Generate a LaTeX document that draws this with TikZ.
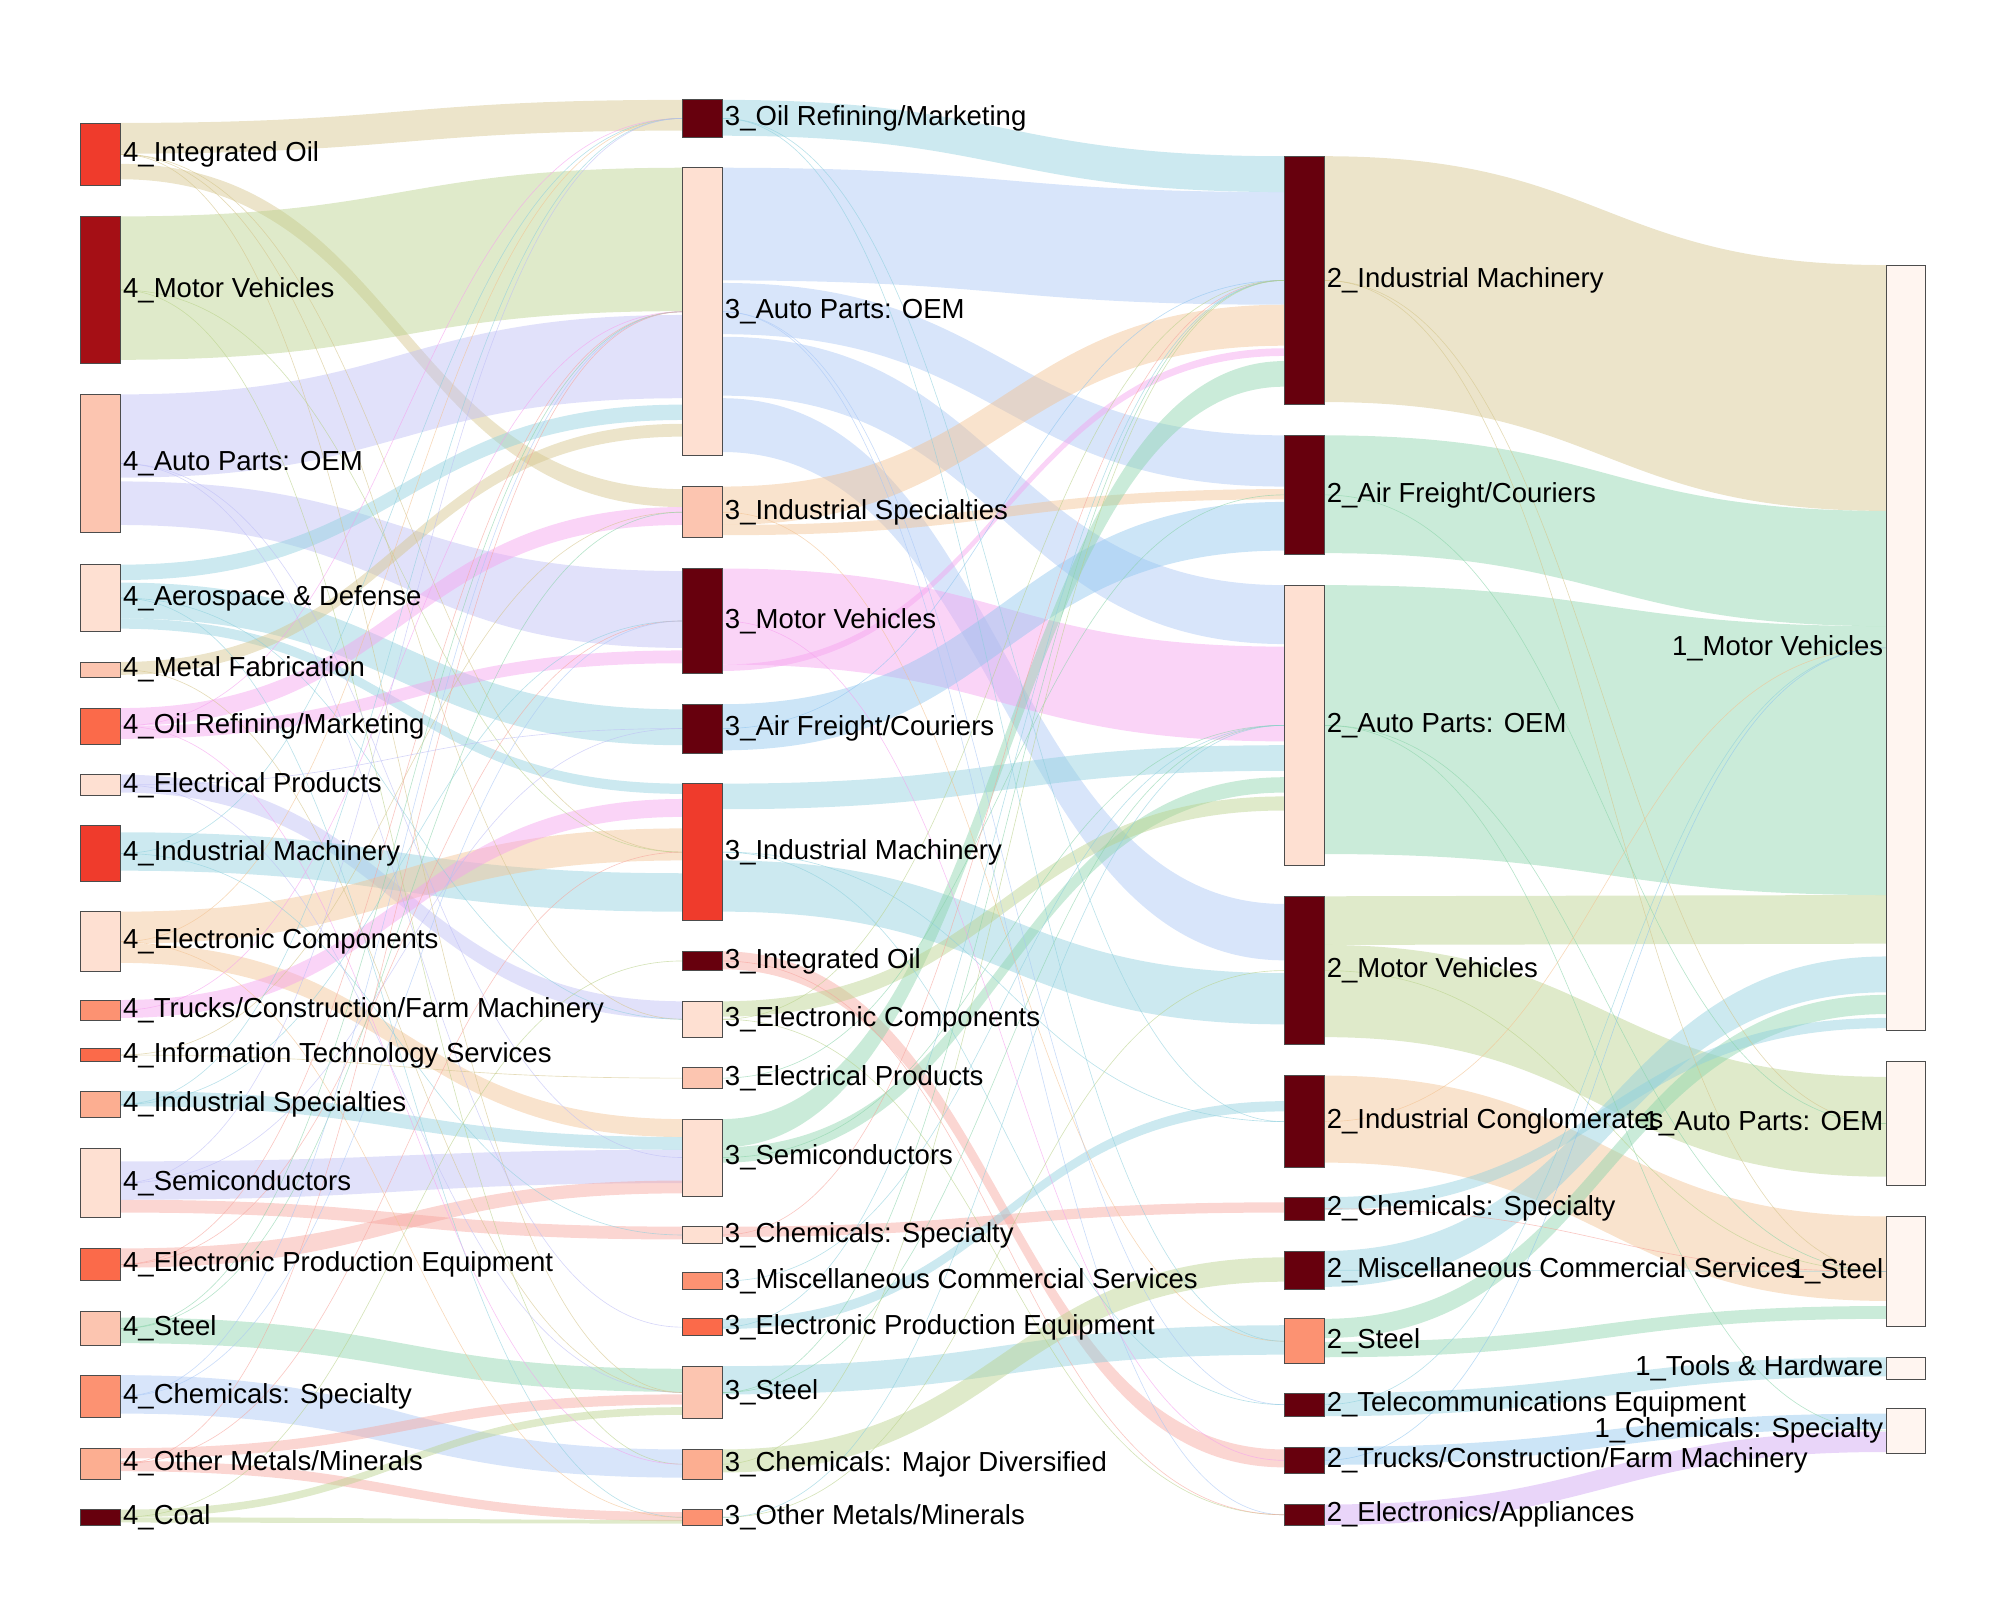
\documentclass[tikz,border=0pt]{standalone}
\usepackage{fontspec}
\setmainfont{Liberation Sans}
\usetikzlibrary{positioning}
\usetikzlibrary{calc}
\definecolor{nA}{HTML}{67000D}
\definecolor{nB}{HTML}{A50F15}
\definecolor{nC}{HTML}{EF3B2C}
\definecolor{nD}{HTML}{FB6A4A}
\definecolor{nE}{HTML}{FC9272}
\definecolor{nF}{HTML}{FCAE91}
\definecolor{nG}{HTML}{FCC5B0}
\definecolor{nH}{HTML}{FEE0D2}
\definecolor{nI}{HTML}{FFF5F0}
\definecolor{ftan}{HTML}{D4C48A}
\definecolor{folive}{HTML}{B9D18A}
\definecolor{flav}{HTML}{BDBDF5}
\definecolor{fcyan}{HTML}{8ECFDD}
\definecolor{fblue}{HTML}{A8C6F5}
\definecolor{fsky}{HTML}{8FC5EE}
\definecolor{fpink}{HTML}{F5A0EE}
\definecolor{fpeach}{HTML}{F2C190}
\definecolor{fgreen}{HTML}{8AD3AA}
\definecolor{fsalmon}{HTML}{F6A49C}
\definecolor{fpurple}{HTML}{CFA2F2}
\pgfdeclarelayer{bg}
\pgfsetlayers{bg,main}
\newcommand\flow[7]{%
  \fill[#7,opacity=.45] ($(#1.north east)+(0,#2)$) .. controls +(220,0) and +(-220,0) .. ($(#4.north west)+(0,#5)$)
    -- ($(#4.north west)+(0,#6)$) .. controls +(-220,0) and +(220,0) .. ($(#1.north east)+(0,#3)$) -- cycle;}
\tikzset{
  box/.style={draw=black!70,line width=0.6pt,anchor=north,minimum width=31pt,inner sep=0pt,outer sep=0pt},
  lbl/.style={anchor=west,inner sep=2pt,font=\fontsize{21.5}{24}\selectfont},
  lbll/.style={anchor=east,inner sep=2pt,font=\fontsize{21.5}{24}\selectfont},
  thin flow/.style={line width=0.5pt,opacity=.6}
}
\begin{document}
\begin{tikzpicture}[x=1pt,y=-1pt]
\useasboundingbox (0,0) rectangle (1562,1250);

% column 4
\foreach \n/\y/\h/\c/\t in {
  io4/96/49/nC/Integrated Oil, mv4/169/115/nB/Motor Vehicles, ap4/308/108/nG/Auto Parts: OEM,
  ad4/441/52/nH/Aerospace \& Defense, mf4/517/12/nG/Metal Fabrication, or4/553/28/nD/{Oil Refining/Marketing},
  ep4/605/16/nH/Electrical Products, im4/645/43/nC/Industrial Machinery, ec4/712/47/nH/Electronic Components,
  tc4/781/16/nE/{Trucks/Construction/Farm Machinery}, it4/819/10/nD/Information Technology Services,
  is4/852/21/nF/Industrial Specialties, sc4/897/54/nH/Semiconductors, pe4/975/25/nD/Electronic Production Equipment,
  st4/1024/27/nG/Steel, cs4/1074/33/nE/Chemicals: Specialty, om4/1131/24/nF/{Other Metals/Minerals}, co4/1179/12/nA/Coal}
{
  \node[box,fill=\c,minimum height=\h pt] (\n) at (78.5,\y) {};
  \node[lbl] (\n l) at (\n.east) {4\_\t};
}

% column 3
\foreach \n/\y/\h/\c/\t in {
  or3/78/29/nA/{Oil Refining/Marketing}, ap3/131/225/nH/Auto Parts: OEM, is3/380/40/nG/Industrial Specialties,
  mv3/444/82/nA/Motor Vehicles, af3/550/38/nA/{Air Freight/Couriers}, im3/612/107/nC/Industrial Machinery,
  io3/743/15/nA/Integrated Oil, ec3/782/28/nH/Electronic Components, ep3/834/16/nG/Electrical Products,
  sc3/874/60/nH/Semiconductors, cs3/958/13/nH/Chemicals: Specialty, mc3/994/13/nE/Miscellaneous Commercial Services,
  pe3/1030/13/nD/Electronic Production Equipment, st3/1067/41/nG/Steel, cm3/1132/23/nF/Chemicals: Major Diversified,
  om3/1179/12/nE/{Other Metals/Minerals}}
{
  \node[box,fill=\c,minimum height=\h pt] (\n) at (548.5,\y) {};
  \node[lbl] (\n l) at (\n.east) {3\_\t};
}

% column 2
\foreach \n/\y/\h/\c/\t in {
  im2/122/194/nA/Industrial Machinery, af2/340/93/nA/{Air Freight/Couriers}, ap2/457/219/nH/Auto Parts: OEM,
  mv2/700/116/nA/Motor Vehicles, ic2/840/72/nA/Industrial Conglomerates, cs2/935/18/nA/Chemicals: Specialty,
  mc2/977/30/nA/Miscellaneous Commercial Services, st2/1030/35/nE/Steel, te2/1088/18/nA/Telecommunications Equipment,
  tc2/1130/21/nA/{Trucks/Construction/Farm Machinery}, ea2/1175/16/nA/{Electronics/Appliances}}
{
  \node[box,fill=\c,minimum height=\h pt] (\n) at (1018.5,\y) {};
  \node[lbl] (\n l) at (\n.east) {2\_\t};
}

% column 1
\foreach \n/\y/\h/\t in {
  mv1/207/598/Motor Vehicles, ap1/829/97/Auto Parts: OEM, st1/950/86/Steel,
  th1/1060/17/Tools \& Hardware, cs1/1100/35/Chemicals: Specialty}
{
  \node[box,fill=nI,minimum height=\h pt] (\n) at (1488.5,\y) {};
  \node[lbll] (\n l) at (\n.west) {1\_\t};
}

\begin{pgfonlayer}{bg}
% flows 4 -> 3
\flow{io4}{0}{24}{or3}{0}{24}{ftan}
\flow{io4}{32}{44}{is3}{2}{16}{ftan}
\flow{mv4}{0}{112}{ap3}{0}{112}{folive}
\flow{ap4}{0}{65}{ap3}{115}{180}{flav}
\flow{ap4}{68}{102}{mv3}{2}{62}{flav}
\flow{ad4}{0}{12}{ap3}{185}{197}{fcyan}
\flow{ad4}{14}{42}{af3}{4}{32}{fcyan}
\flow{ad4}{42}{50}{im3}{0}{8}{fcyan}
\flow{mf4}{0}{10}{ap3}{200}{210}{ftan}
\flow{or4}{0}{14}{is3}{16}{30}{fpink}
\flow{or4}{14}{24}{mv3}{64}{74}{fpink}
\flow{ep4}{0}{14}{ec3}{0}{14}{flav}
\flow{im4}{5}{35}{im3}{70}{100}{fcyan}
\flow{ec4}{0}{25}{im3}{35}{60}{fpeach}
\flow{ec4}{25}{40}{sc3}{0}{14}{fpeach}
\flow{tc4}{0}{14}{im3}{12}{26}{fpink}
\flow{is4}{0}{12}{sc3}{14}{24}{fcyan}
\flow{sc4}{10}{40}{sc3}{24}{50}{flav}
\flow{sc4}{40}{50}{cs3}{0}{10}{fsalmon}
\flow{pe4}{0}{15}{sc3}{48}{58}{fsalmon}
\flow{st4}{5}{25}{st3}{2}{20}{fgreen}
\flow{cs4}{0}{30}{cm3}{0}{22}{fblue}
\flow{om4}{0}{8}{st3}{22}{30}{fsalmon}
\flow{om4}{10}{18}{om3}{2}{9}{fsalmon}
\flow{co4}{0}{6}{st3}{32}{38}{folive}
\flow{co4}{6}{10}{om3}{8}{11}{folive}
% flows 3 -> 2
\flow{or3}{0}{28}{im2}{0}{28}{fcyan}
\flow{ap3}{0}{88}{im2}{28}{116}{fblue}
\flow{ap3}{90}{130}{af2}{0}{40}{fblue}
\flow{ap3}{132}{178}{ap2}{0}{46}{fblue}
\flow{ap3}{180}{222}{mv2}{6}{50}{fblue}
\flow{is3}{0}{30}{im2}{116}{148}{fpeach}
\flow{is3}{30}{38}{af2}{42}{50}{fpeach}
\flow{mv3}{0}{75}{ap2}{48}{122}{fpink}
\flow{mv3}{75}{80}{im2}{150}{156}{fpink}
\flow{af3}{0}{36}{af2}{52}{90}{fsky}
\flow{im3}{0}{20}{ap2}{125}{145}{fcyan}
\flow{im3}{60}{100}{mv2}{60}{100}{fcyan}
\flow{io3}{0}{14}{tc2}{2}{16}{fsalmon}
\flow{sc3}{0}{22}{im2}{160}{180}{fgreen}
\flow{sc3}{22}{34}{ap2}{150}{162}{fgreen}
\flow{ec3}{0}{12}{ap2}{165}{176}{folive}
\flow{st3}{0}{22}{st2}{5}{28}{fcyan}
\flow{cm3}{0}{18}{mc2}{5}{24}{folive}
\flow{cs3}{0}{8}{cs2}{4}{12}{fsalmon}
\flow{pe3}{0}{8}{ic2}{20}{28}{fcyan}
% flows 2 -> 1
\flow{im2}{0}{192}{mv1}{0}{192}{ftan}
\flow{af2}{0}{92}{mv1}{192}{282}{fgreen}
\flow{ap2}{0}{210}{mv1}{282}{492}{fgreen}
\flow{mv2}{0}{38}{mv1}{492}{530}{folive}
\flow{mv2}{38}{110}{ap1}{12}{90}{folive}
\flow{ic2}{0}{68}{st1}{0}{66}{fpeach}
\flow{mc2}{0}{28}{mv1}{540}{568}{fcyan}
\flow{st2}{0}{15}{mv1}{570}{585}{fgreen}
\flow{st2}{18}{30}{st1}{70}{80}{fgreen}
\flow{te2}{0}{18}{th1}{0}{15}{fcyan}
\flow{tc2}{0}{14}{cs1}{4}{16}{fsky}
\flow{ea2}{0}{16}{cs1}{18}{34}{fpurple}
\flow{cs2}{0}{10}{mv1}{588}{596}{fcyan}
% thin flows
\foreach \a/\b/\c in {io4/im3/ftan, io4/ec3/ftan, io4/st3/ftan, mv4/im3/folive, mv4/cm3/folive,
  ap4/sc3/flav, ap4/pe3/flav, ad4/ec3/fcyan, ad4/om3/fcyan, or4/cm3/fpink, or4/or3/fpink,
  ep4/st3/flav, im4/or3/fcyan, im4/cs3/fcyan, ec4/or3/fpeach, ec4/om3/fpeach, tc4/ap3/fpink,
  it4/is3/ftan, it4/ep3/ftan, is4/or3/fcyan, is4/mv3/fcyan, sc4/af3/flav, sc4/or3/flav,
  pe4/mv3/fsalmon, pe4/ap3/fsalmon, st4/ap3/fgreen, st4/is3/fgreen, cs4/mv3/fblue, cs4/ap3/fblue,
  om4/im3/fsalmon, om4/ap3/fsalmon, co4/io3/folive, mf4/st3/ftan, ep4/af3/flav}
  \draw[thin flow,\c] (\a.east) .. controls +(220,0) and +(-220,0) .. (\b.west);
\foreach \a/\b/\c in {or3/ic2/fcyan, ap3/ea2/fblue, ap3/te2/fblue, is3/st2/fpeach, mv3/tc2/fpink,
  af3/im2/fsky, im3/ic2/fcyan, im3/te2/fcyan, ec3/im2/folive, ec3/ea2/folive, ep3/af2/fgreen,
  sc3/ap2/fgreen, cs3/im2/fsalmon, mc3/ap2/fcyan, pe3/im2/fcyan, st3/ap2/fgreen, st3/im2/fgreen,
  cm3/im2/folive, om3/mv2/folive, om3/ap2/fcyan, io3/ea2/fsalmon, or3/st2/fcyan}
  \draw[thin flow,\c] (\a.east) .. controls +(220,0) and +(-220,0) .. (\b.west);
\foreach \a/\b/\c in {im2/ap1/ftan, im2/st1/ftan, af2/ap1/fgreen, ap2/st1/fgreen, ap2/cs1/fgreen,
  mv2/st1/folive, ic2/mv1/fpeach, cs2/st1/fsalmon, mc2/st1/fcyan, te2/mv1/fcyan, tc2/mv1/fsky}
  \draw[thin flow,\c] (\a.east) .. controls +(220,0) and +(-220,0) .. (\b.west);
\end{pgfonlayer}
\end{tikzpicture}
\end{document}
